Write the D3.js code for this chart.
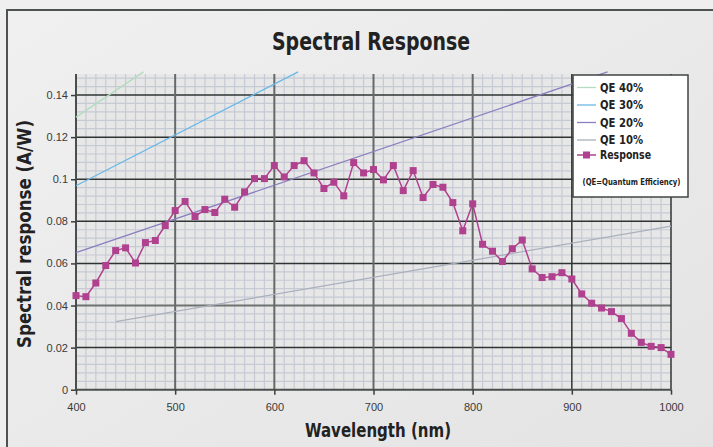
<!DOCTYPE html>
<html><head><meta charset="utf-8">
<script src="https://cdn.jsdelivr.net/npm/d3@7"></script>
<style>
html,body{margin:0;padding:0;background:#eeeeee;}
svg{display:block;}
</style></head>
<body>
<svg id="c" width="713" height="447"></svg>
<script>
// ---- data ----
const wavelengths = [400,410,420,430,440,450,460,470,480,490,500,510,520,530,540,550,560,570,580,590,600,610,620,630,640,650,660,670,680,690,700,710,720,730,740,750,760,770,780,790,800,810,820,830,840,850,860,870,880,890,900,910,920,930,940,950,960,970,980,990,1000];
const response = [0.0447,0.0442,0.0507,0.0590,0.0661,0.0674,0.0602,0.0699,0.0709,0.0780,0.0851,0.0894,0.0823,0.0856,0.0842,0.0905,0.0867,0.0940,0.1003,0.1003,0.1065,0.1011,0.1065,0.1088,0.1030,0.0956,0.0986,0.0921,0.1079,0.1030,0.1046,0.0997,0.1065,0.0946,0.1041,0.0913,0.0975,0.0962,0.0889,0.0755,0.0883,0.0691,0.0658,0.0609,0.0670,0.0711,0.0574,0.0533,0.0537,0.0556,0.0526,0.0455,0.0411,0.0388,0.0371,0.0338,0.0268,0.0225,0.0206,0.0200,0.0168];
const qe40 = [[400,0.1295],[468,0.151]];
const qe30 = [[400,0.0969],[624,0.151]];
const qe20 = [[400,0.0651],[936,0.151]];
const qe10 = [[440,0.0323],[1000,0.0777]];
const xTicks = [400,500,600,700,800,900,1000];
const yTicks = [0,0.02,0.04,0.06,0.08,0.1,0.12,0.14];
const legendLabels = ["QE 40%","QE 30%","QE 20%","QE 10%","Response"];
const legendColors = ["#b3dcbf","#6ab8e8","#8a7fbf","#a9b0bd","#b0418f"];

const svg = d3.select("#c");
const W=713,H=447;
const PL=76,PR=671,PT=74,PB=389.7;
const x = d3.scaleLinear().domain([400,1000]).range([PL,PR]);
const y = d3.scaleLinear().domain([0,0.15]).range([PB,PT]);

// background gradient
const defs = svg.append("defs");
const g1 = defs.append("linearGradient").attr("id","bg").attr("x1",0).attr("y1",0).attr("x2",1).attr("y2",1);
g1.append("stop").attr("offset","0%").attr("stop-color","#f0f0f0");
g1.append("stop").attr("offset","100%").attr("stop-color","#e3e3e3");
svg.append("rect").attr("width",W).attr("height",H).attr("fill","#efefef");
svg.append("rect").attr("x",7).attr("y",10).attr("width",W+20).attr("height",H+20)
  .attr("fill","url(#bg)").attr("stroke","#4f5350").attr("stroke-width",2);

// plot background
svg.append("rect").attr("x",PL).attr("y",PT).attr("width",PR-PL).attr("height",PB-PT).attr("fill","#e7e7e7");

// minor grid
const minorX = d3.range(400,1001,10).filter(v=>v%100!==0);
const minorY = d3.range(0,0.1501,0.004).filter(v=>Math.abs(v/0.02-Math.round(v/0.02))>1e-6);
svg.append("g").selectAll("line").data(minorX).join("line")
  .attr("x1",d=>x(d)).attr("x2",d=>x(d)).attr("y1",PT).attr("y2",PB)
  .attr("stroke","#c6cad4").attr("stroke-width",1.2);
svg.append("g").selectAll("line").data(minorY).join("line")
  .attr("x1",PL).attr("x2",PR).attr("y1",d=>y(d)).attr("y2",d=>y(d))
  .attr("stroke","#c6cad4").attr("stroke-width",1.2);

// major grid
const grayH = d=>Math.abs(d-0.04)<1e-9;
svg.append("g").selectAll("line").data(yTicks.filter(d=>d>0)).join("line")
  .attr("x1",PL).attr("x2",PR).attr("y1",d=>y(d)).attr("y2",d=>y(d))
  .attr("stroke",d=>grayH(d)?"#6e7270":"#2f3432").attr("stroke-width",d=>grayH(d)?2:1.5);
const grayV = d=>d<900;
svg.append("g").selectAll("line").data(xTicks.filter(d=>d>400)).join("line")
  .attr("x1",d=>x(d)).attr("x2",d=>x(d)).attr("y1",PT).attr("y2",PB)
  .attr("stroke",d=>grayV(d)?"#656a68":"#2f3432").attr("stroke-width",d=>grayV(d)?2:1.5);

// axes
const xAxis = svg.append("g").attr("transform",`translate(0,${PB})`)
  .call(d3.axisBottom(x).tickValues(xTicks).tickSize(5).tickPadding(9).tickFormat(d3.format("d")));
const yAxis = svg.append("g").attr("transform",`translate(${PL},0)`)
  .call(d3.axisLeft(y).tickValues(yTicks).tickSize(5).tickPadding(3).tickFormat(d=>d===0?"0":String(+d.toFixed(2))));
[xAxis,yAxis].forEach(a=>{
  a.select(".domain").attr("stroke","#4a4f4d").attr("stroke-width",2);
  a.selectAll(".tick line").attr("stroke","#3a3f3d").attr("stroke-width",1.5);
  a.selectAll("text").attr("fill","#3a3a3a").attr("font-family","Liberation Sans, Arial, sans-serif").attr("font-size",11);
});
yAxis.select(".domain").attr("d",`M0,${PB}V${PT}`);
xAxis.select(".domain").attr("d",`M${PL},0H${PR}`);

// QE lines
const lineGen = d3.line().x(d=>x(d[0])).y(d=>y(d[1]));
const qeSeries=[qe40,qe30,qe20,qe10];
qeSeries.forEach((s,i)=>{
  svg.append("path").datum(s).attr("d",lineGen).attr("fill","none")
    .attr("stroke",legendColors[i]).attr("stroke-width",1.3);
});

// response
const pts = wavelengths.map((w,i)=>[w,response[i]]);
svg.append("path").datum(pts).attr("d",lineGen).attr("fill","none")
  .attr("stroke","#b0418f").attr("stroke-width",1.5);
svg.append("g").selectAll("rect").data(pts).join("rect")
  .attr("x",d=>x(d[0])-3.5).attr("y",d=>y(d[1])-3.5).attr("width",7).attr("height",7)
  .attr("fill","#b0418f");

// titles
const cond = "'DejaVu Sans Condensed', 'DejaVu Sans', sans-serif";
function ctext(sel){ return sel.attr("font-family",cond).attr("font-stretch","condensed").attr("font-weight","bold").attr("fill","#222").attr("lengthAdjust","spacingAndGlyphs"); }
ctext(svg.append("text")).attr("x",371).attr("y",49.5).attr("text-anchor","middle")
  .attr("font-size",25).attr("textLength",198).text("Spectral Response");
ctext(svg.append("text")).attr("x",378).attr("y",437).attr("text-anchor","middle")
  .attr("font-size",19).attr("textLength",146).text("Wavelength (nm)");
ctext(svg.append("text")).attr("transform",`translate(30.5,234) rotate(-90)`).attr("text-anchor","middle")
  .attr("font-size",19).attr("textLength",228).text("Spectral response (A/W)");

// legend
const lg = svg.append("g");
lg.append("rect").attr("x",573).attr("y",75).attr("width",115).attr("height",122)
  .attr("fill","#ffffff").attr("stroke","#3f4442").attr("stroke-width",1.5);
const ly=[87.5,105,122.5,140,155];
const lw=[43,43,43,43,51];
legendLabels.forEach((t,i)=>{
  lg.append("line").attr("x1",577).attr("x2",596).attr("y1",ly[i]).attr("y2",ly[i])
    .attr("stroke",legendColors[i]).attr("stroke-width",i===4?1.5:1.3);
  if(i===4) lg.append("rect").attr("x",583).attr("y",ly[i]-3.5).attr("width",7).attr("height",7).attr("fill",legendColors[i]);
  ctext(lg.append("text")).attr("x",600).attr("y",ly[i]).attr("dy","0.36em")
    .attr("font-size",12).attr("textLength",lw[i]).text(t);
});
ctext(lg.append("text")).attr("x",631.5).attr("y",182).attr("dy","0.35em").attr("text-anchor","middle")
  .attr("font-size",9).attr("textLength",98).text("(QE=Quantum Efficiency)");
</script>
</body></html>
